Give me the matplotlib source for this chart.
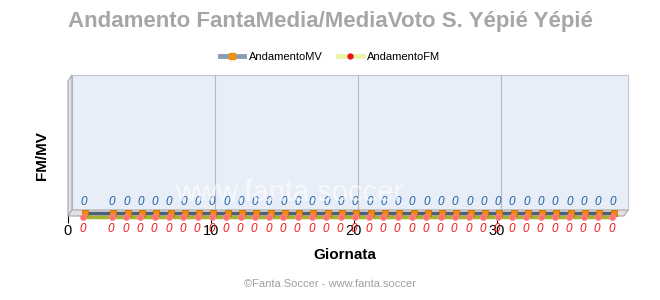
import matplotlib
matplotlib.use("Agg")
import matplotlib.pyplot as plt
from matplotlib.patches import Rectangle, Polygon
from matplotlib.lines import Line2D
from matplotlib.transforms import ScaledTranslation

plt.rcParams['font.family'] = ['Liberation Sans', 'DejaVu Sans']

# dati
giornate = [1, 3, 4, 5, 6, 7, 8, 9, 10, 11, 12, 13, 14, 15, 16, 17, 18, 19, 20,
            21, 22, 23, 24, 25, 26, 27, 28, 29, 30, 31, 32, 33, 34, 35, 36, 37, 38]
andamento_mv = [0, 0, 0, 0, 0, 0, 0, 0, 0, 0, 0, 0, 0, 0, 0, 0, 0, 0, 0,
                0, 0, 0, 0, 0, 0, 0, 0, 0, 0, 0, 0, 0, 0, 0, 0, 0, 0]
andamento_fm = [0, 0, 0, 0, 0, 0, 0, 0, 0, 0, 0, 0, 0, 0, 0, 0, 0, 0, 0,
                0, 0, 0, 0, 0, 0, 0, 0, 0, 0, 0, 0, 0, 0, 0, 0, 0, 0]
xticks = [0, 10, 20, 30]

W, H = 660, 300
fig = plt.figure(figsize=(6.6, 3.0), dpi=100)
fig.patch.set_facecolor('white')

# piano frontale
L, R, B, T = 68, 624, 216, 81
ax = fig.add_axes([L / W, 1 - B / H, (R - L) / W, (B - T) / H])
ax.set_xlim(0, 38.9)
ax.set_ylim(0, 1)
ax.patch.set_visible(False)
for s in ax.spines.values():
    s.set_visible(False)
ax.set_yticks([])
ax.set_xticks(xticks)
ax.tick_params(axis='x', length=5, width=0.8, color='black', labelsize=10.5, pad=1)

# effetto 3d
ddx, ddy = 4, 6
back = ScaledTranslation(ddx / 100, ddy / 100, fig.dpi_scale_trans)
dxa, dya = ddx / (R - L), ddy / (B - T)

ax.add_patch(Rectangle((0, 0), 1, 1, transform=ax.transAxes + back,
                       facecolor='#e8eef8', edgecolor='#c4c8ce', lw=0.8,
                       zorder=0, clip_on=False))
for x in xticks[1:]:
    ax.plot([x, x], [0, 1], transform=ax.transData + back, color='#b4b8c0',
            lw=0.8, zorder=1, clip_on=False)
ax.add_patch(Polygon([(0, 0), (dxa, dya), (dxa, 1 + dya), (0, 1)],
                     transform=ax.transAxes, facecolor='#dfe3e8',
                     edgecolor='#a0a4aa', lw=0.8, zorder=1, clip_on=False))
ax.add_patch(Polygon([(0, 0), (1, 0), (1 + dxa, dya), (dxa, dya)],
                     transform=ax.transAxes, facecolor='#e2e2e2',
                     edgecolor='#a8a8a8', lw=0.8, zorder=1, clip_on=False))

# serie
tr_mv = ax.transData + ScaledTranslation(2.5 / 100, 3.5 / 100, fig.dpi_scale_trans)
tr_fm = ax.transData + ScaledTranslation(1 / 100, -1 / 100, fig.dpi_scale_trans)

ax.plot(giornate, andamento_mv, transform=tr_mv, color='#4f6072', lw=2.5,
        marker='s', ms=5, mfc='#f08a10', mec='#d06c00', mew=0.6,
        zorder=3, clip_on=False)
ax.plot(giornate, andamento_fm, transform=tr_fm, color='#a3b52e', lw=2.5,
        zorder=2, clip_on=False)
ax.plot(giornate, andamento_fm, transform=tr_fm, ls='none',
        marker='o', ms=4.5, mfc='#ff7070', mec='#ff9090', mew=0.5,
        zorder=4, clip_on=False)

for g, v in zip(giornate, andamento_mv):
    ax.annotate(f'{v}', (g, v), xycoords=tr_mv, xytext=(-1, 7.5),
                textcoords='offset points', ha='center', va='center',
                fontsize=8.5, style='italic', color='#1f5fa8', zorder=5)
for g, v in zip(giornate, andamento_fm):
    ax.annotate(f'{v}', (g, v), xycoords=tr_fm, xytext=(-0.5, -8.5),
                textcoords='offset points', ha='center', va='center',
                fontsize=8.5, style='italic', color='#f01818', zorder=5)

# watermark
fig.text(289 / W, 1 - 193 / H, 'www.fanta.soccer', ha='center', va='center',
         fontsize=21, color='white', alpha=0.6, zorder=10)

# testi
fig.text(0.5, 1 - 22 / H, 'Andamento FantaMedia/MediaVoto S. Yépié Yépié',
         ha='center', va='center', fontsize=16, fontweight='bold', color='#a6a6a6')
fig.text(42 / W, 1 - 156 / H, 'FM/MV', rotation=90, ha='center', va='center',
         fontsize=11, fontweight='bold')
fig.text(345 / W, 1 - 255 / H, 'Giornata', ha='center', va='center',
         fontsize=11, fontweight='bold')
fig.text(0.5, 1 - 284 / H, '©Fanta.Soccer - www.fanta.soccer', ha='center',
         va='center', fontsize=8, color='#a0a0a0')

handles = [
    Line2D([], [], color='#8c9cb0', lw=3.5, marker='s', ms=4, mfc='#f09010', mec='#f09010'),
    Line2D([], [], color='#e8f5a8', lw=3.5, marker='o', ms=3.5, mfc='#ee1010', mec='#ee1010'),
]
fig.legend(handles, ['AndamentoMV', 'AndamentoFM'], loc='center',
           bbox_to_anchor=(0.5, 1 - 57 / H), ncol=2, frameon=False, fontsize=8,
           handlelength=2.2, handletextpad=0.4, columnspacing=1.4)

fig.savefig('out.png', dpi=100)
